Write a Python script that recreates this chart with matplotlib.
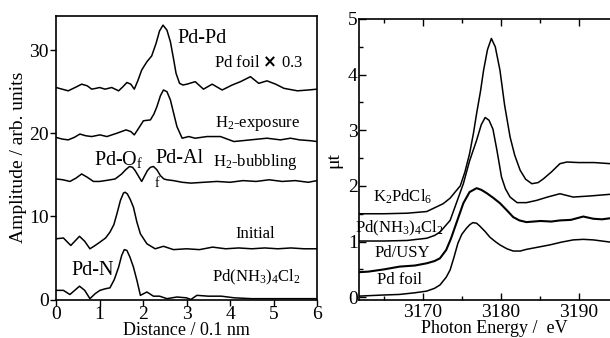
import matplotlib
matplotlib.use("Agg")
import matplotlib.pyplot as plt
from matplotlib.ticker import MultipleLocator

plt.rcParams['font.family'] = ['Liberation Serif', 'DejaVu Serif']
plt.rcParams['mathtext.fontset'] = 'custom'
plt.rcParams['mathtext.rm'] = 'Liberation Serif'
plt.rcParams['mathtext.it'] = 'Liberation Serif:italic'

# ---------------- Left panel: FT amplitudes ----------------
foil_r = [0, 0.14, 0.28, 0.44, 0.59, 0.72, 0.82, 0.92, 1.0, 1.13, 1.28, 1.44, 1.54, 1.63, 1.72, 1.80,
          1.88, 1.97, 2.09, 2.2, 2.3, 2.38, 2.46, 2.55, 2.63, 2.70, 2.76, 2.84, 2.92, 3.01, 3.20, 3.39,
          3.59, 3.82, 4.05, 4.24, 4.47, 4.66, 4.85, 5.05, 5.24, 5.55, 5.8, 6.0]
foil_a = [25.5, 25.3, 25.1, 25.5, 25.9, 25.7, 25.3, 25.4, 25.5, 25.3, 25.5, 25.1, 25.6, 26.1, 25.9, 25.3,
          26.3, 27.6, 28.6, 29.3, 30.8, 32.3, 33.0, 32.4, 31.0, 29.0, 27.2, 26.0, 25.8, 25.9, 26.2, 25.3,
          25.9, 25.2, 25.8, 26.2, 26.8, 26.0, 26.3, 25.9, 25.4, 25.1, 25.2, 25.3]

h2exp_r = [0, 0.14, 0.28, 0.42, 0.55, 0.68, 0.82, 1.01, 1.17, 1.40, 1.61, 1.72, 1.80, 1.90, 2.01, 2.17,
           2.25, 2.32, 2.40, 2.47, 2.55, 2.63, 2.70, 2.78, 2.90, 3.05, 3.20, 3.47, 3.78, 4.09, 4.47, 4.85,
           5.16, 5.39, 5.6, 5.85, 6.0]
h2exp_a = [19.5, 19.3, 19.2, 19.5, 19.9, 19.7, 19.6, 19.8, 19.6, 20.0, 20.4, 20.2, 19.8, 20.6, 21.5, 21.6,
           22.3, 23.2, 24.5, 25.2, 25.0, 24.0, 22.5, 20.8, 19.4, 19.6, 19.4, 19.6, 19.6, 19.0, 19.2, 19.4,
           19.2, 19.4, 19.2, 19.1, 19.0]

h2bub_r = [0, 0.16, 0.32, 0.46, 0.59, 0.72, 0.86, 1.0, 1.13, 1.25, 1.36, 1.51, 1.60, 1.69, 1.76, 1.82,
           1.90, 1.97, 2.03, 2.10, 2.17, 2.24, 2.32, 2.40, 2.48, 2.55, 2.70, 2.9, 3.1, 3.4, 3.7, 4.0,
           4.3, 4.6, 4.9, 5.2, 5.5, 5.8, 6.0]
h2bub_a = [14.5, 14.4, 14.2, 14.6, 15.1, 14.7, 14.2, 14.2, 14.3, 14.4, 14.5, 15.1, 15.6, 16.0, 15.9, 15.5,
           14.8, 14.2, 14.8, 15.5, 15.9, 16.0, 15.6, 14.9, 14.5, 14.4, 14.3, 14.1, 14.0, 14.1, 14.2, 14.1,
           14.3, 14.2, 14.4, 14.2, 14.3, 14.1, 14.3]

init_r = [0, 0.17, 0.34, 0.54, 0.66, 0.78, 0.9, 1.01, 1.14, 1.24, 1.33, 1.40, 1.48, 1.55, 1.59, 1.64,
          1.71, 1.78, 1.86, 1.94, 2.09, 2.28, 2.47, 2.70, 3.0, 3.3, 3.6, 3.9, 4.2, 4.5, 4.8, 5.1, 5.4,
          5.7, 6.0]
init_a = [7.3, 7.4, 6.5, 7.6, 7.0, 6.1, 6.5, 6.9, 7.4, 8.1, 9.0, 10.3, 11.9, 12.8, 12.9, 12.7,
          12.0, 11.1, 9.3, 7.9, 6.7, 6.1, 6.4, 6.0, 6.1, 6.0, 6.3, 6.1, 6.2, 6.1, 6.2, 6.1, 6.2,
          6.1, 6.1]

amm_r = [0, 0.17, 0.32, 0.54, 0.66, 0.78, 0.9, 1.01, 1.14, 1.24, 1.34, 1.44, 1.51, 1.57, 1.63, 1.70,
         1.78, 1.86, 1.94, 2.09, 2.24, 2.38, 2.55, 2.78, 3.0, 3.1, 3.24, 3.5, 3.8, 4.1, 4.5, 5.0, 5.5, 6.0]
amm_a = [1.1, 1.1, 0.6, 1.6, 1.1, 0.1, 0.7, 1.1, 1.3, 1.4, 2.4, 3.9, 5.3, 6.0, 5.9, 5.1,
         3.9, 2.3, 0.5, 0.9, 0.4, 0.4, 0.1, 0.3, 0.2, 0.0, 0.5, 0.4, 0.4, 0.2, 0.1, 0.1, 0.1, 0.1]

left_xticks = [0, 1, 2, 3, 4, 5, 6]
left_yticks = [0, 10, 20, 30]

# ---------------- Right panel: XANES ----------------
foil_E = [3161.8, 3165, 3167, 3169, 3170.5, 3171.5, 3172.2, 3173.0, 3173.5, 3174.0, 3174.5, 3175.0,
          3175.6, 3176.0, 3176.4, 3176.9, 3177.3, 3178.0, 3178.6, 3179.3, 3179.9, 3180.8, 3181.6,
          3182.5, 3183.3, 3184.8, 3186.3, 3187.8, 3189.3, 3190.6, 3191.9, 3194.1, 3196.6]
foil_mu = [0.02, 0.04, 0.05, 0.08, 0.11, 0.16, 0.22, 0.36, 0.49, 0.72, 0.97, 1.13,
           1.24, 1.30, 1.34, 1.33, 1.28, 1.18, 1.08, 1.0, 0.94, 0.87, 0.83,
           0.83, 0.86, 0.90, 0.94, 0.99, 1.03, 1.04, 1.03, 0.99, 0.97]

usy_E = [3161.8, 3163, 3165, 3167, 3169, 3170.5, 3171.5, 3172.2, 3173.0, 3173.6, 3174.3, 3175.2,
         3176.0, 3176.9, 3177.5, 3178.2, 3179.0, 3179.9, 3180.8, 3181.6, 3182.4, 3183.3, 3185.1,
         3186.5, 3187.6, 3189, 3190.6, 3191.9, 3193, 3194.1, 3196.6]
usy_mu = [0.45, 0.46, 0.50, 0.55, 0.57, 0.61, 0.65, 0.70, 0.85, 1.05, 1.33, 1.69,
          1.89, 1.96, 1.93, 1.87, 1.79, 1.69, 1.56, 1.44, 1.38, 1.35, 1.37,
          1.36, 1.38, 1.39, 1.45, 1.41, 1.40, 1.42, 1.40]

amm_E = [3161.8, 3165, 3168, 3170.5, 3171.5, 3172.2, 3173.0, 3173.5, 3174.3, 3175.2, 3176.0, 3176.9,
         3177.5, 3178.0, 3178.5, 3179.0, 3179.5, 3180.1, 3180.6, 3181.2, 3182.1, 3183.3, 3184.6,
         3186.0, 3187.6, 3189.3, 3191.5, 3194.1, 3196.6]
amm_mu = [1.01, 1.01, 1.02, 1.06, 1.11, 1.17, 1.30, 1.38, 1.69, 2.04, 2.45, 2.82,
          3.10, 3.23, 3.18, 3.02, 2.65, 2.16, 1.95, 1.80, 1.70, 1.70, 1.74,
          1.80, 1.86, 1.80, 1.82, 1.85, 1.85]

k2_E = [3161.8, 3165, 3168, 3170.5, 3172.6, 3173.5, 3174.2, 3174.8, 3175.4, 3176.0, 3176.5, 3176.9,
        3177.4, 3177.8, 3178.3, 3178.8, 3179.3, 3179.9, 3180.5, 3181.2, 3181.8, 3182.5, 3183.2,
        3184.0, 3184.8, 3185.5, 3186.5, 3187.6, 3188.5, 3190, 3192, 3194.1, 3196.6]
k2_mu = [1.50, 1.50, 1.51, 1.54, 1.68, 1.78, 1.90, 2.00, 2.25, 2.58, 2.95, 3.30,
         3.70, 4.08, 4.45, 4.65, 4.50, 4.08, 3.45, 2.88, 2.55, 2.28, 2.12,
         2.04, 2.06, 2.13, 2.25, 2.40, 2.43, 2.42, 2.42, 2.40, 2.40]

right_xticks = [3170, 3180, 3190]
right_yticks = [0, 1, 2, 3, 4, 5]

W, H = 610, 338
fig = plt.figure(figsize=(W / 100, H / 100), dpi=100)

# ---- left axes
axL = fig.add_axes([56 / W, 1 - 299.5 / H, (317 - 56) / W, (299.5 - 16) / H])
for r, a in [(foil_r, foil_a), (h2exp_r, h2exp_a), (h2bub_r, h2bub_a), (init_r, init_a), (amm_r, amm_a)]:
    axL.plot(r, a, color='black', lw=1.1)
axL.set_xlim(0, 6)
axL.set_ylim(0, 34.1)
axL.set_xticks(left_xticks)
axL.set_yticks(left_yticks)
axL.tick_params(direction='out', length=4, width=1, labelsize=14, pad=1)
axL.set_xlabel('Distance / 0.1 nm', fontsize=13, labelpad=-1)
axL.set_ylabel('Amplitude / arb. units', fontsize=14, labelpad=2)
for s in axL.spines.values():
    s.set_linewidth(1.2)

axL.text(3.36, 31.4, 'Pd-Pd', fontsize=14.5, ha='center', va='center')
axL.text(4.65, 28.4, 'Pd foil $\\mathbf{\\times}$ 0.3', fontsize=12, ha='center', va='center')
axL.text(4.63, 21.2, 'H$_2$-exposure', fontsize=12, ha='center', va='center')
axL.text(4.59, 16.5, 'H$_2$-bubbling', fontsize=12, ha='center', va='center')
axL.text(1.45, 16.8, 'Pd-O$_\\mathrm{f}$', fontsize=14.5, ha='center', va='center')
axL.text(2.83, 16.9, 'Pd-Al', fontsize=14.5, ha='center', va='center')
axL.text(2.33, 14.0, 'f', fontsize=10, ha='center', va='center')
axL.text(4.59, 7.9, 'Initial', fontsize=12, ha='center', va='center')
axL.text(4.6, 2.6, 'Pd(NH$_3$)$_4$Cl$_2$', fontsize=12, ha='center', va='center')
axL.text(0.85, 3.5, 'Pd-N', fontsize=14.5, ha='center', va='center')

# ---- right axes (extends beyond the figure's right edge, as in the cropped reference)
axR = fig.add_axes([359 / W, 1 - 300 / H, (630 - 359) / W, (300 - 19) / H])
for E, mu, lw in [(foil_E, foil_mu, 1.1), (usy_E, usy_mu, 1.5), (amm_E, amm_mu, 1.1), (k2_E, k2_mu, 1.1)]:
    axR.plot(E, mu, color='black', lw=lw)
axR.set_xlim(3161.8, 3196.6)
axR.set_ylim(-0.05, 5.0)
axR.set_xticks(right_xticks)
axR.set_yticks(right_yticks)
axR.xaxis.set_minor_locator(MultipleLocator(5))
axR.yaxis.set_minor_locator(MultipleLocator(0.5))
axR.tick_params(which='major', direction='in', length=5, width=1, labelsize=14, pad=3, top=True)
axR.tick_params(which='minor', direction='in', length=3, width=1, top=True)
axR.tick_params(axis='y', pad=1)
axR.set_xlabel('Photon Energy /  eV', fontsize=13, labelpad=-1)
axR.set_ylabel('μt', fontsize=14, labelpad=4)
for s in axR.spines.values():
    s.set_linewidth(1.2)

axR.text(3167.4, 1.80, 'K$_2$PdCl$_6$', fontsize=12, ha='center', va='center')
axR.text(3167.0, 1.24, 'Pd(NH$_3$)$_4$Cl$_2$', fontsize=12, ha='center', va='center')
axR.text(3167.3, 0.79, 'Pd/USY', fontsize=12, ha='center', va='center')
axR.text(3167.0, 0.31, 'Pd foil', fontsize=12, ha='center', va='center')

fig.savefig('out.png', dpi=100)
